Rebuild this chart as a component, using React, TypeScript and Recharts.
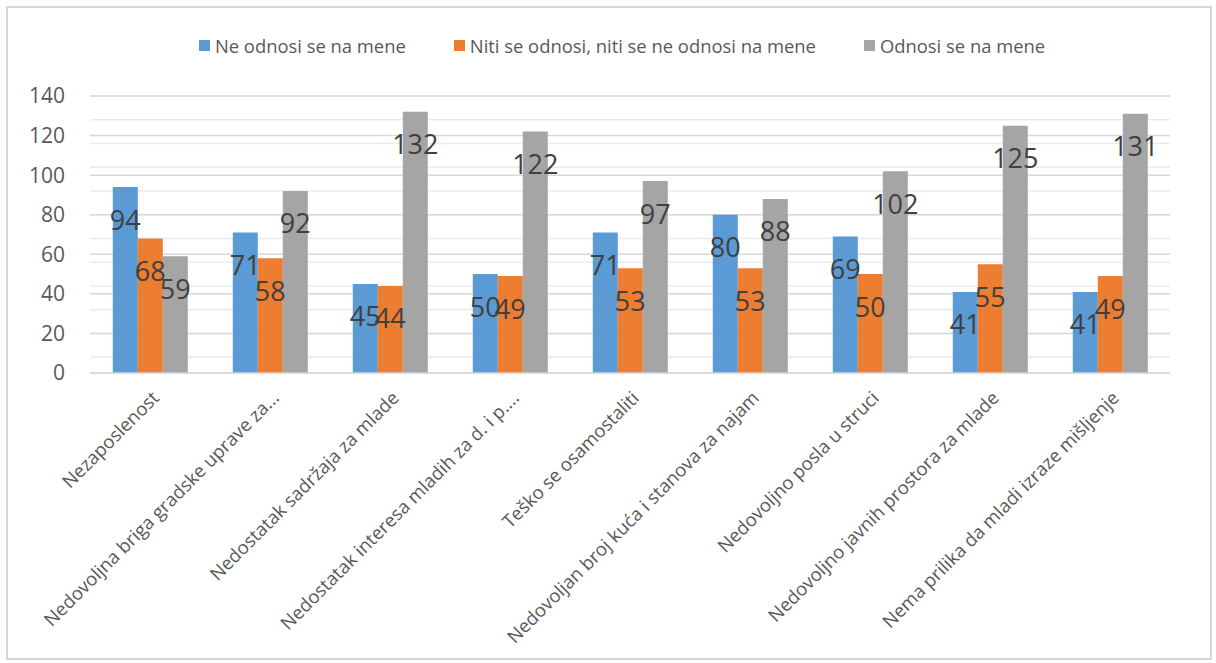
import React from "react"
import { BarChart, Bar, XAxis, YAxis, CartesianGrid, Legend, LabelList } from "recharts"

const categories = [
  "Nezaposlenost",
  "Nedovoljna briga gradske uprave za...",
  "Nedostatak sadržaja za mlade",
  "Nedostatak interesa mladih za d. i p....",
  "Teško se osamostaliti",
  "Nedovoljan broj kuća i stanova za najam",
  "Nedovoljno posla u struci",
  "Nedovoljno javnih prostora za mlade",
  "Nema prilika da mladi izraze mišljenje",
]

const neOdnosi = [94, 71, 45, 50, 71, 80, 69, 41, 41]
const niti = [68, 58, 44, 49, 53, 53, 50, 55, 49]
const odnosi = [59, 92, 132, 122, 97, 88, 102, 125, 131]

const yTicks = [0, 20, 40, 60, 80, 100, 120, 140]
// minor gridlines every 4
const minorTicks = Array.from({ length: 36 }, (_, i) => i * 4)

const series = [
  { key: "a", name: "Ne odnosi se na mene", color: "#5b9bd5" },
  { key: "b", name: "Niti se odnosi, niti se ne odnosi na mene", color: "#ed7d31" },
  { key: "c", name: "Odnosi se na mene", color: "#a5a5a5" },
]

const data = categories.map((name, i) => ({ name, a: neOdnosi[i], b: niti[i], c: odnosi[i] }))

const FONT = "'Open Sans', 'Noto Sans', sans-serif"

function CategoryTick(props: any) {
  const { x, y, payload } = props
  return (
    <g transform={`translate(${x + 1},${y + 9})`}>
      <text transform="rotate(-45)" textAnchor="end" dy="0.7em" fontSize={18.5} fill="#595959" fontFamily={FONT}>
        {payload.value}
      </text>
    </g>
  )
}

function ValueLabel(props: any) {
  const { x, y, width, value } = props
  return (
    <text x={x + width / 2} y={y + 32} textAnchor="middle" dominantBaseline="central" fontSize={27} fill="#404040" fontFamily={FONT}>
      {value}
    </text>
  )
}

function LegendBox() {
  return (
    <div style={{ display: "flex", justifyContent: "center", gap: 48, fontFamily: FONT, fontSize: 18.4, color: "#595959" }}>
      {series.map((s) => (
        <div key={s.key} style={{ display: "flex", alignItems: "center" }}>
          <span style={{ width: 11, height: 11, background: s.color, display: "inline-block", marginRight: 5 }} />
          {s.name}
        </div>
      ))}
    </div>
  )
}

export default function App() {
  return (
    <div style={{ position: "absolute", left: 6, top: 6, width: 1202, height: 650, border: "2px solid #d6d6d6", background: "#fff", overflow: "hidden" }}>
      <BarChart
        width={1202}
        height={650}
        data={data}
        margin={{ top: 63, right: 40, left: 0, bottom: 0 }}
        barCategoryGap="19%"
        barGap={0}
      >
        <CartesianGrid vertical={false} stroke="#ebebeb" strokeWidth={1.5} {...({ horizontalValues: minorTicks } as any)} />
        <CartesianGrid vertical={false} stroke="#d9d9d9" strokeWidth={1.5} />
        <XAxis
          dataKey="name"
          interval={0}
          tickLine={false}
          axisLine={{ stroke: "#d9d9d9", strokeWidth: 1.5 }}
          tick={<CategoryTick />}
          height={285}
        />
        <YAxis
          domain={[0, 140]}
          ticks={yTicks}
          width={82}
          axisLine={false}
          tickLine={false}
          tickMargin={19}
          tick={{ fontSize: 21, fill: "#595959", fontFamily: FONT }}
        />
        <Legend verticalAlign="top" content={<LegendBox />} wrapperStyle={{ top: 25, left: 33 }} />
        {series.map((s) => (
          <Bar key={s.key} dataKey={s.key} name={s.name} fill={s.color} isAnimationActive={false}>
            <LabelList dataKey={s.key} content={<ValueLabel />} />
          </Bar>
        ))}
      </BarChart>
    </div>
  )
}
